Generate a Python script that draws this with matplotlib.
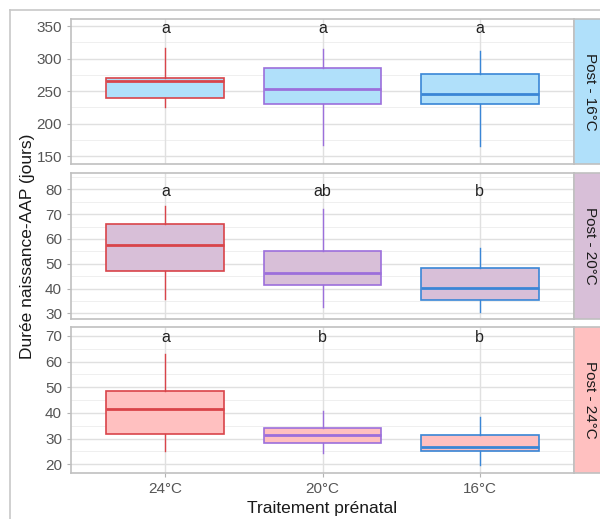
import matplotlib.pyplot as plt
from matplotlib.lines import Line2D

plt.rcParams['font.family'] = ['Liberation Sans', 'DejaVu Sans']

treatments = ['24°C', '20°C', '16°C']
facets = ['Post - 16°C', 'Post - 20°C', 'Post - 24°C']
facet_fill = ['#B0E0FA', '#D8BFD8', '#FFC0C0']
edge_colors = ['#D9444A', '#9C6FDB', '#3A86D6']

# per facet, per treatment: whislo, q1, med, q3, whishi
post16 = [(225, 239, 265, 270, 316), (167, 230, 254, 285, 315), (165, 231, 246, 277, 312)]
post20 = [(35.6, 47.0, 57.7, 66.0, 73.3), (32.7, 41.3, 46.4, 55.2, 71.9), (30.4, 35.4, 40.4, 48.3, 56.2)]
post24 = [(25.2, 31.7, 41.4, 48.4, 63.0), (24.5, 28.3, 31.6, 34.3, 40.8), (19.6, 25.0, 26.8, 31.3, 38.4)]
letters = [['a', 'a', 'a'], ['a', 'ab', 'b'], ['a', 'b', 'b']]
letter_y = [346, 79, 69.6]
ylims = [(138, 361), (27.7, 86.6), (16.6, 73.5)]
yticks = [range(150, 351, 50), range(30, 81, 10), range(20, 71, 10)]
yminor = [range(175, 351, 50), range(35, 86, 10), range(25, 71, 10)]
data = [post16, post20, post24]

fig = plt.figure(figsize=(6, 5.19), dpi=100)
left, right = 71 / 600, 574 / 600
tops = [19, 173, 327]
bots = [164, 319, 473]
H = 519

for i in range(3):
    ax = fig.add_axes([left, 1 - bots[i] / H, right - left, (bots[i] - tops[i]) / H])
    ax.set_xlim(0.4, 3.6)
    ax.set_ylim(*ylims[i])
    for y in yminor[i]:
        ax.axhline(y, color='#EDEDED', lw=0.6, zorder=0)
    for y in yticks[i]:
        ax.axhline(y, color='#E0E0E0', lw=1.0, zorder=0)
    for x in [1, 2, 3]:
        ax.axvline(x, color='#E0E0E0', lw=1.0, zorder=0)
    for j, (lo, q1, med, q3, hi) in enumerate(data[i]):
        c = edge_colors[j]
        stats = [dict(whislo=lo, q1=q1, med=med, q3=q3, whishi=hi, fliers=[])]
        ax.bxp(stats, positions=[j + 1], widths=0.75, patch_artist=True,
               showcaps=False, manage_ticks=False,
               boxprops=dict(facecolor=facet_fill[i], edgecolor=c, lw=1.2),
               medianprops=dict(color=c, lw=2.0),
               whiskerprops=dict(color=c, lw=1.0), zorder=2)
        ax.text(j + 1, letter_y[i], letters[i][j], ha='center', va='center',
                fontsize=11.5, color='#222222')
    ax.set_yticks(list(yticks[i]))
    ax.set_xticks([1, 2, 3])
    ax.tick_params(axis='both', colors='#B3B3B3', labelcolor='#555555',
                   labelsize=11, length=3, width=0.8)
    if i < 2:
        ax.set_xticklabels([])
        ax.tick_params(axis='x', length=0)
    else:
        ax.set_xticklabels(treatments)
    for s in ax.spines.values():
        s.set_color('#C0C0C0')
        s.set_linewidth(1.2)
    # facet strip
    sax = fig.add_axes([right, 1 - bots[i] / H, 1 - right + 0.01, (bots[i] - tops[i]) / H])
    sax.set_facecolor(facet_fill[i])
    sax.set_xticks([])
    sax.set_yticks([])
    for s in sax.spines.values():
        s.set_color('#C0C0C0')
        s.set_linewidth(1.2)
    sax.text(0.5, 0.5, facets[i], rotation=-90, ha='center', va='center',
             fontsize=11, color='#1A1A1A', transform=sax.transAxes)

fig.text(28 / 600, 1 - 246 / H, 'Durée naissance-AAP (jours)', rotation=90,
         ha='center', va='center', fontsize=12.5, color='#1A1A1A')
fig.text((left + right) / 2, 1 - 508 / H, 'Traitement prénatal',
         ha='center', va='center', fontsize=12.5, color='#1A1A1A')

# screenshot frame
fig.add_artist(Line2D([10 / 600, 10 / 600], [0, 1 - 10 / H], color='#C8C8C8', lw=1.2))
fig.add_artist(Line2D([10 / 600, 1], [1 - 10 / H, 1 - 10 / H], color='#C8C8C8', lw=1.2))

fig.savefig('out.png', dpi=100)
